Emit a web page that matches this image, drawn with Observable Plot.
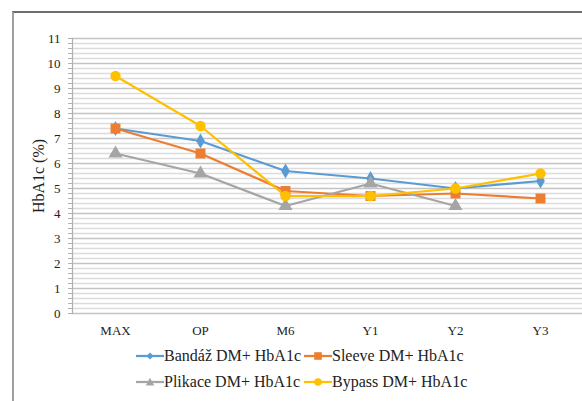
<!DOCTYPE html>
<html>
<head>
<meta charset="utf-8">
<script src="https://cdn.jsdelivr.net/npm/d3@7"></script>
<script src="https://cdn.jsdelivr.net/npm/@observablehq/plot@0.6"></script>
<style>
  html, body { margin: 0; padding: 0; background: #fff; }
  #wrap { position: relative; width: 582px; height: 401px; overflow: hidden; background: #fff;
          font-family: "Liberation Serif", Tinos, "DejaVu Serif", serif; }
  #border { position: absolute; left: 12px; top: 11px; right: -4px; bottom: -4px;
            border-left: 2px solid #a0a0a0; border-top: 2px solid #6e6e6e; }
  #chart { position: absolute; left: 0; top: 0; }
  #chart svg, #chart svg text { font-family: "Liberation Serif", Tinos, "DejaVu Serif", serif; }
  #chart svg g[aria-label="y-axis label"] text { font-size: 16px; }
  .legend { position: absolute; font-size: 16px; color: #222; white-space: nowrap; }
  .item { position: absolute; display: flex; align-items: center; }
  .item svg { display: block; margin-right: 0; }
</style>
</head>
<body>
<div id="wrap">
  <div id="border"></div>
  <div id="chart"></div>
  <div class="legend" id="legend"></div>
</div>
<script>
// Time points and HbA1c (%) per surgery group
const categories = ["MAX", "OP", "M6", "Y1", "Y2", "Y3"];
const seriesNames = ["Bandáž DM+ HbA1c", "Sleeve DM+ HbA1c", "Plikace DM+ HbA1c", "Bypass DM+ HbA1c"];
const bandaz  = [7.4, 6.9, 5.7, 5.4, 5.0, 5.3];
const sleeve  = [7.4, 6.4, 4.9, 4.7, 4.8, 4.6];
const plikace = [6.4, 5.6, 4.3, 5.2, 4.3, null];
const bypass  = [9.5, 7.5, 4.7, 4.7, 5.0, 5.6];
const yTicks = d3.range(0, 56).map(i => i / 5);

const seriesValues = [bandaz, sleeve, plikace, bypass];
const seriesColors = ["#5b9bd5", "#ed7d31", "#a5a5a5", "#ffc000"];
const seriesSymbols = ["diamond", "square", "triangle", "circle"];
const seriesRadius = [4.6, 5.6, 5.2, 5.2];

const rows = seriesNames.flatMap((s, i) =>
  categories.map((c, j) => ({series: s, cat: c, value: seriesValues[i][j]}))
).filter(d => d.value != null);

const isWhole = d => Number.isInteger(Math.round(d * 1000) / 1000);

const seriesMarks = seriesNames.flatMap((s, i) => {
  const data = rows.filter(d => d.series === s);
  return [
    Plot.line(data, {x: "cat", y: "value", stroke: seriesColors[i], strokeWidth: 2.25}),
    Plot.dot(data, {x: "cat", y: "value", symbol: () => seriesSymbols[i], fill: seriesColors[i],
                    stroke: "none", r: seriesRadius[i]})
  ];
});

const chart = Plot.plot({
  width: 582,
  height: 340,
  marginLeft: 72,
  marginRight: 0,
  marginTop: 38,
  marginBottom: 27,
  style: {fontFamily: "'Liberation Serif', Tinos, 'DejaVu Serif', serif", fontSize: "13px", color: "#222", background: "transparent"},
  x: {type: "point", domain: categories, padding: 0.5, align: 0.5},
  y: {domain: [0, 11]},
  symbol: {type: "identity"},
  marks: [
    Plot.ruleY(yTicks, {stroke: d => isWhole(d) ? "#c4c4c4" : "#dcdcdc", strokeWidth: 1.4}),
    Plot.frame({anchor: "left", stroke: "#b0b0b0", strokeWidth: 1.2}),
    Plot.axisY({ticks: yTicks, tickSize: 4, tickPadding: 8, stroke: "#b0b0b0",
                tickFormat: d => isWhole(d) ? String(Math.round(d)) : "",
                label: "HbA1c (%)", labelAnchor: "center", labelArrow: "none", labelOffset: 40}),
    Plot.axisX({tickSize: 0, tickPadding: 12, label: null}),
    ...seriesMarks
  ]
});
document.getElementById("chart").appendChild(chart);

// Legend: two rows, two columns
const legend = document.getElementById("legend");
const symbolPath = {
  diamond: "M0,-3.6L3.6,0L0,3.6L-3.6,0Z",
  square: "M-3.8,-3.8H3.8V3.8H-3.8Z",
  triangle: "M0,-4.2L4.2,3.4L-4.2,3.4Z",
  circle: "M3.8,0A3.8,3.8,0,1,1,-3.8,0A3.8,3.8,0,1,1,3.8,0Z"
};
const cols = [136, 304];
const rowsY = [347, 373];
seriesNames.forEach((name, i) => {
  const item = document.createElement("div");
  item.className = "item";
  item.style.left = cols[i % 2] + "px";
  item.style.top = rowsY[Math.floor(i / 2)] + "px";
  item.innerHTML =
    `<svg width="28" height="14" viewBox="-14 -7 28 14">` +
    `<line x1="-14" x2="14" y1="0" y2="0" stroke="${seriesColors[i]}" stroke-width="2.25"/>` +
    `<path d="${symbolPath[seriesSymbols[i]]}" fill="${seriesColors[i]}"/></svg>` +
    `<span>${name}</span>`;
  legend.appendChild(item);
});
</script>
</body>
</html>
